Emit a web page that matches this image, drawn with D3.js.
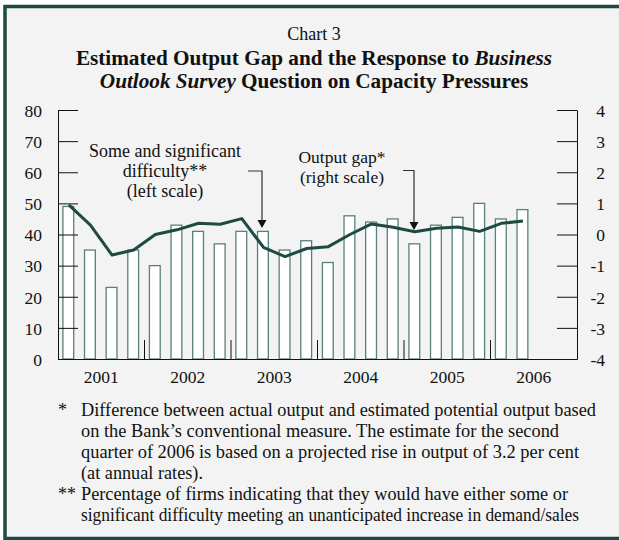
<!DOCTYPE html>
<html>
<head>
<meta charset="utf-8">
<script src="https://cdn.jsdelivr.net/npm/d3@7/dist/d3.min.js"></script>
<style>
  html, body { margin: 0; padding: 0; background: #ffffff; }
  svg { display: block; }
  text { font-family: "Liberation Serif", "Times New Roman", "DejaVu Serif", serif; fill: #111; }
</style>
</head>
<body>
<div id="chart"></div>
<script>
// ---------- data ----------
const years = ["2001", "2002", "2003", "2004", "2005", "2006"];
const quarterNames = ["Q1", "Q2", "Q3", "Q4"];
const quarters = [
  "2001Q1","2001Q2","2001Q3","2001Q4",
  "2002Q1","2002Q2","2002Q3","2002Q4",
  "2003Q1","2003Q2","2003Q3","2003Q4",
  "2004Q1","2004Q2","2004Q3","2004Q4",
  "2005Q1","2005Q2","2005Q3","2005Q4",
  "2006Q1","2006Q2"
];
// Some and significant difficulty (% of firms, left scale)
const difficulty = [49, 35, 23, 35, 30, 43, 41, 37, 41, 41, 35, 38, 31, 46, 44, 45, 37, 43, 45.5, 50, 45, 48];
// Output gap (%, right scale)
const outputGap = [0.95, 0.3, -0.66, -0.5, 0.0, 0.15, 0.36, 0.33, 0.51, -0.41, -0.71, -0.45, -0.39, 0.0, 0.34, 0.23, 0.09, 0.2, 0.24, 0.1, 0.36, 0.43];
const leftTicks = [0, 10, 20, 30, 40, 50, 60, 70, 80];
const rightTicks = [-4, -3, -2, -1, 0, 1, 2, 3, 4];

// ---------- layout ----------
const W = 619, H = 540;
const plot = { left: 58, right: 577, top: 110, bottom: 359 };
const colors = { bg: "#f2f3f2", frame: "#1e4a42", line: "#1d4a42", barStroke: "#5a807a", axis: "#111" };
const fontSerif = '"Liberation Serif", "Times New Roman", serif';
// measured right ends of the footnote lines in the reference
const noteLineEnds = [596, 559, 579, 203, 568, 579];

const svg = d3.select("#chart").append("svg").attr("width", W).attr("height", H);

// background and frame
svg.append("rect").attr("x", 0).attr("y", 0).attr("width", W).attr("height", H).attr("fill", "#ffffff");
svg.append("rect").attr("x", 5).attr("y", 6.5).attr("width", W + 10).attr("height", H - 8)
  .attr("fill", colors.bg).attr("stroke", colors.frame).attr("stroke-width", 3.5);

// ---------- titles ----------
const cx = 314;
svg.append("text").attr("x", cx).attr("y", 39.5).attr("text-anchor", "middle")
  .attr("font-size", 18).text("Chart 3");
const t2 = svg.append("text").attr("x", cx).attr("y", 65).attr("text-anchor", "middle")
  .attr("font-size", 21.2).attr("font-weight", "bold");
t2.append("tspan").text("Estimated Output Gap and the Response to ");
t2.append("tspan").attr("font-style", "italic").text("Business");
const t3 = svg.append("text").attr("x", cx).attr("y", 87.5).attr("text-anchor", "middle")
  .attr("font-size", 21.2).attr("font-weight", "bold");
t3.append("tspan").attr("font-style", "italic").text("Outlook Survey");
t3.append("tspan").text(" Question on Capacity Pressures");

// ---------- scales ----------
const xYear = d3.scaleBand().domain(years).range([plot.left, plot.right]).padding(0);
const xQ = d3.scaleBand().domain(quarterNames).range([0, xYear.bandwidth()]).padding(0);
const xCenter = q => xYear(q.slice(0, 4)) + xQ(q.slice(4)) + xQ.bandwidth() / 2;
const yL = d3.scaleLinear().domain([0, 80]).range([plot.bottom, plot.top]);
const yR = d3.scaleLinear().domain([-4, 4]).range([plot.bottom, plot.top]);
const barW = xQ.bandwidth() * 0.5;

// ---------- bars ----------
svg.append("g").selectAll("rect").data(quarters).join("rect")
  .attr("x", (q) => xCenter(q) - barW / 2 - 0.5)
  .attr("y", (q, i) => yL(difficulty[i]))
  .attr("width", barW)
  .attr("height", (q, i) => yL(0) - yL(difficulty[i]))
  .attr("fill", "#ffffff")
  .attr("stroke", colors.barStroke)
  .attr("stroke-width", 1.3);

// ---------- axes ----------
const axL = svg.append("g").attr("transform", `translate(${plot.left},0)`)
  .call(d3.axisRight(yL).tickValues(leftTicks).tickSize(20).tickSizeOuter(0).tickFormat(d => String(d)));
axL.selectAll("text").attr("x", -16).attr("dy", "0.36em").attr("text-anchor", "end")
  .attr("font-size", 17.5).attr("font-family", fontSerif).attr("fill", "#111");
axL.selectAll("line,path").attr("stroke", colors.axis);

const axR = svg.append("g").attr("transform", `translate(${plot.right},0)`)
  .call(d3.axisLeft(yR).tickValues(rightTicks).tickSize(20).tickSizeOuter(0).tickFormat(d => String(d)));
axR.selectAll("text").attr("x", 28).attr("dy", "0.36em").attr("text-anchor", "end")
  .attr("font-size", 17.5).attr("font-family", fontSerif).attr("fill", "#111");
axR.selectAll("line,path").attr("stroke", colors.axis);

const axB = svg.append("g").attr("transform", `translate(0,${plot.bottom})`)
  .call(d3.axisBottom(xYear).tickSize(0).tickSizeOuter(0));
axB.selectAll("text").attr("y", 24).attr("dy", 0)
  .attr("font-size", 17.5).attr("font-family", fontSerif).attr("fill", "#111");
axB.select("path").attr("stroke", colors.axis);

// year separators
svg.append("g").selectAll("line").data(years.slice(1)).join("line")
  .attr("x1", d => xYear(d)).attr("x2", d => xYear(d))
  .attr("y1", plot.bottom - 19).attr("y2", plot.bottom)
  .attr("stroke", colors.axis).attr("stroke-width", 1);

// ---------- output gap line ----------
const line = d3.line().x((q) => xCenter(q)).y((q, i) => yR(outputGap[i]));
svg.append("path").datum(quarters).attr("d", line)
  .attr("fill", "none").attr("stroke", colors.line).attr("stroke-width", 3)
  .attr("stroke-linejoin", "round");

// ---------- annotations ----------
const annL = ["Some and significant", "difficulty**", "(left scale)"];
svg.append("g").selectAll("text").data(annL).join("text")
  .attr("x", 165).attr("y", (d, i) => 157 + i * 20)
  .attr("text-anchor", "middle").attr("font-size", 18).text(d => d);
const annR = ["Output gap*", "(right scale)"];
svg.append("g").selectAll("text").data(annR).join("text")
  .attr("x", 342).attr("y", (d, i) => 163 + i * 19.5)
  .attr("text-anchor", "middle").attr("font-size", 17.5).text(d => d);

function arrow(x0, y0, x1, yTip) {
  svg.append("path").attr("d", `M${x0},${y0}H${x1}V${yTip - 7}`)
    .attr("fill", "none").attr("stroke", "#333").attr("stroke-width", 1.2);
  svg.append("path").attr("d", `M${x1 - 4.5},${yTip - 8}L${x1 + 4.5},${yTip - 8}L${x1},${yTip}Z`)
    .attr("fill", "#111");
}
arrow(248, 171, 262, 228);
arrow(403, 170.5, 414, 230);

// ---------- footnotes ----------
const notes = [
  { mark: "*", lines: [
    "Difference between actual output and estimated potential output based",
    "on the Bank\u2019s conventional measure. The estimate for the second",
    "quarter of 2006 is based on a projected rise in output of 3.2 per cent",
    "(at annual rates)."] },
  { mark: "**", lines: [
    "Percentage of firms indicating that they would have either some or",
    "significant difficulty meeting an unanticipated increase in demand/sales"] }
];
let ny = 415.5, li = 0;
notes.forEach(n => {
  svg.append("text").attr("x", 58).attr("y", ny).attr("font-size", 18).text(n.mark);
  n.lines.forEach(l => {
    svg.append("text").attr("x", 81).attr("y", ny).attr("font-size", 18)
      .attr("textLength", noteLineEnds[li] - 81).attr("lengthAdjust", "spacingAndGlyphs").text(l);
    ny += 21; li++;
  });
});
</script>
</body>
</html>
